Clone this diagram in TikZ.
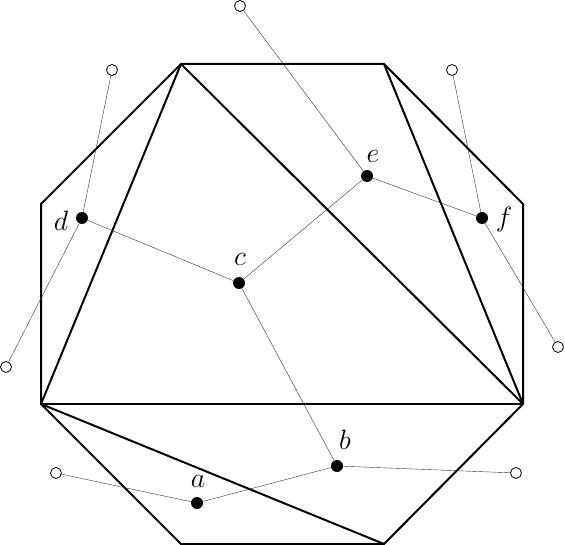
\documentclass[tikz,border=0pt]{standalone}
\begin{document}
\begin{tikzpicture}[x=1pt,y=-1pt,
  poly/.style={line width=2pt,line join=miter},
  dual/.style={line width=0.4pt,black!80},
  full/.style={circle,fill=black,inner sep=0pt,minimum size=12pt},
  leaf/.style={circle,draw=black,fill=white,line width=0.8pt,inner sep=0pt,minimum size=11pt},
  lab/.style={font=\huge,scale=1.35,inner sep=1pt}]
\useasboundingbox (0,0) rectangle (565,545);
% octagon vertices
\coordinate (v1) at (181,64);
\coordinate (v2) at (384,64);
\coordinate (v3) at (523,204);
\coordinate (v4) at (523,404);
\coordinate (v5) at (384,544);
\coordinate (v6) at (181,544);
\coordinate (v7) at (41,404);
\coordinate (v8) at (41,204);
\draw[poly] (v1) -- (v2) -- (v3) -- (v4) -- (v5) -- (v6) -- (v7) -- (v8) -- cycle;
\draw[poly] (v1) -- (v7);
\draw[poly] (v1) -- (v4);
\draw[poly] (v2) -- (v4);
\draw[poly] (v7) -- (v4);
\draw[poly] (v7) -- (v5);
% dual nodes
\node[full] (a) at (197,503) {};
\node[full] (b) at (337,466) {};
\node[full] (c) at (239,283) {};
\node[full] (d) at (82,218) {};
\node[full] (e) at (367,176) {};
\node[full] (f) at (482,218) {};
% leaves
\node[leaf] (la) at (56,473) {};
\node[leaf] (lb) at (516,473) {};
\node[leaf] (ld1) at (112,70) {};
\node[leaf] (ld2) at (6,367) {};
\node[leaf] (le) at (240,6) {};
\node[leaf] (lf1) at (452,70) {};
\node[leaf] (lf2) at (558,347) {};
% dual edges
\draw[dual] (a) -- (b);
\draw[dual] (b) -- (c);
\draw[dual] (c) -- (d);
\draw[dual] (c) -- (e);
\draw[dual] (e) -- (f);
\draw[dual] (a) -- (la);
\draw[dual] (b) -- (lb);
\draw[dual] (d) -- (ld1);
\draw[dual] (d) -- (ld2);
\draw[dual] (e) -- (le);
\draw[dual] (f) -- (lf1);
\draw[dual] (f) -- (lf2);
% labels
\node[lab] (ta) at (198,481) {$a$};
\node[lab] (tb) at (345,440) {$b$};
\node[lab] (tc) at (240,259) {$c$};
\node[lab] (td) at (61,221) {$d$};
\node[lab] (te) at (373,156) {$e$};
\node[lab] (tf) at (504,220) {$f$};
\end{tikzpicture}
\end{document}
